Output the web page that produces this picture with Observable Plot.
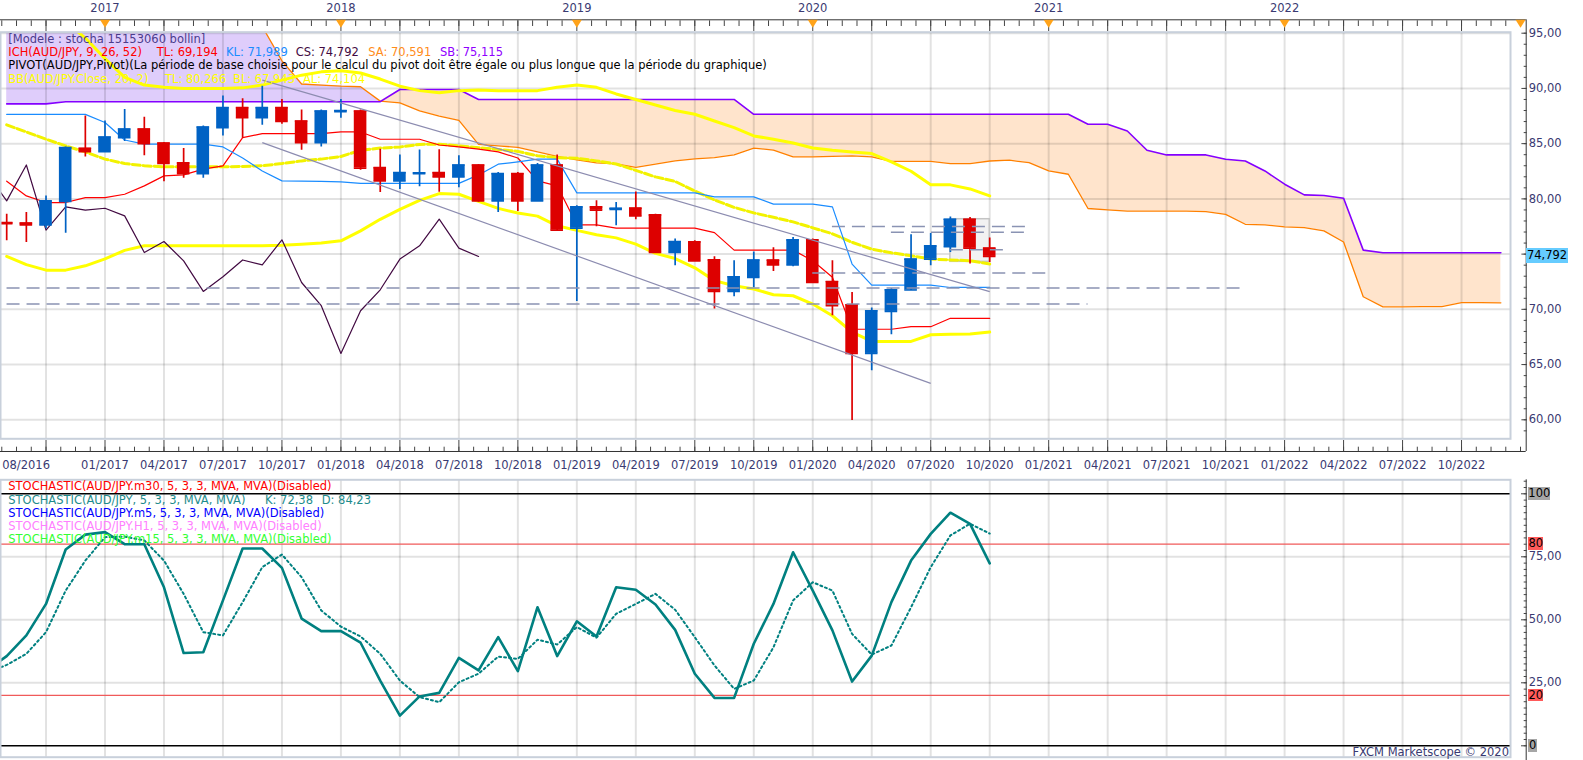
<!DOCTYPE html>
<html>
<head>
<meta charset="utf-8">
<script src="https://cdn.jsdelivr.net/npm/d3@7"></script>
<script src="https://cdn.jsdelivr.net/npm/@observablehq/plot@0.6"></script>
<style>
html, body { margin: 0; padding: 0; background: #fff; overflow: hidden; }
#wrap { position: relative; width: 1583px; height: 760px; overflow: hidden; font-family: "DejaVu Sans", sans-serif; }
#wrap svg { display: block; }
.t { position: absolute; font-size: 11.5px; line-height: 13px; white-space: pre; }
.tag { position: absolute; font-size: 11.5px; white-space: pre; color: #000; text-align: center; }
</style>
</head>
<body>
<div id="wrap"></div>
<script>
// ---------------- DATA (monthly AUD/JPY) ----------------
const firstMonth = "08/2016";
const open  = [77.85,77.82,77.65,79.76,84.58,84.28,85.54,86.33,85.06,83.26,
               82.29,86.45,88.26,87.35,88.26,87.05,85.09,87.90,87.96,82.83,
               81.63,82.28,82.38,81.99,83.07,79.82,82.29,79.82,83.07,77.35,
               79.28,79.05,79.16,78.55,75.14,76.11,74.48,71.62,72.88,74.46,
               74.03,76.29,72.52,70.42,66.01,69.81,71.75,74.55,75.66,78.16,
               75.54];
const high  = [78.62,78.76,80.27,84.70,87.50,87.05,88.10,87.40,85.10,84.55,
               86.60,89.31,89.07,90.20,89.00,88.05,88.05,89.00,88.05,84.50,
               83.98,84.43,84.45,83.90,83.10,82.38,82.38,83.20,83.98,79.37,
               79.82,79.67,80.63,78.60,76.36,76.20,74.76,74.39,75.20,75.57,
               76.50,76.36,74.39,71.53,70.12,71.89,76.75,76.86,78.37,78.31,
               76.45];
const low   = [76.20,76.05,77.30,76.90,83.80,84.25,85.20,83.90,81.56,81.87,
               81.87,85.70,85.50,86.66,86.75,84.40,84.70,87.30,82.60,80.57,
               80.85,81.10,80.60,81.00,79.70,78.76,78.85,79.80,77.10,70.71,
               77.47,77.56,78.10,75.10,73.94,74.39,70.03,71.14,71.95,73.43,
               73.85,72.40,69.42,59.93,64.45,67.70,71.70,73.94,75.14,74.10,
               74.24];
const close = [77.75,77.65,79.82,84.64,84.28,85.60,86.33,85.00,83.20,82.29,
               86.51,88.26,87.35,88.26,87.00,85.09,87.96,88.00,82.78,81.63,
               82.38,82.36,81.99,83.07,79.82,82.29,79.82,83.07,77.17,79.28,
               78.98,79.15,78.46,75.14,76.14,74.39,71.62,72.95,74.47,74.03,
               76.29,72.43,70.33,66.01,69.87,71.77,74.55,75.75,78.16,75.54,
               74.79];
const tenkan = [81.60,80.27,79.67,79.67,80.12,80.12,80.42,81.18,82.08,82.17,
                82.69,82.98,85.54,85.90,85.90,85.90,85.90,86.06,86.06,85.40,
                85.40,85.40,84.88,84.70,84.50,84.25,83.70,81.63,81.18,77.65,
                77.65,77.35,77.35,77.35,77.35,77.35,76.95,75.36,75.36,75.36,
                75.36,74.40,72.90,68.20,68.20,68.20,68.43,68.43,69.19,69.19,
                69.19];
const kijun  = [87.65,87.65,87.65,87.65,87.65,86.92,85.33,84.95,84.95,84.95,
                84.95,84.70,83.70,82.53,81.63,81.60,81.58,81.54,81.40,81.40,
                81.40,81.40,81.40,81.40,82.17,83.14,83.35,83.60,83.60,80.54,
                80.54,80.54,80.54,80.54,80.54,80.54,80.18,80.18,80.18,79.52,
                79.52,79.52,79.28,74.10,72.20,72.20,72.20,72.20,71.98,71.98,
                71.98];
const senkouA = [97.0,97.0,97.0,97.0,97.0,97.0,97.0,97.0,97.0,97.0,
                 97.0,97.0,96.3,95.6,92.5,90.4,90.3,90.2,90.15,88.85,
                 88.7,87.96,87.5,87.1,84.94,84.8,84.67,84.26,83.85,83.54,
                 83.26,83.17,82.86,83.15,83.44,83.62,83.74,83.98,84.6,84.41,
                 83.8,83.8,83.84,83.9,83.8,83.4,83.4,83.4,83.2,83.2,
                 83.43,83.5,83.28,82.53,82.23,79.13,79.0,78.9,78.9,78.9,
                 78.9,78.85,78.6,77.7,77.65,77.47,77.4,77.1,76.1,71.14,
                 70.23,70.23,70.25,70.25,70.6,70.6,70.59];
const senkouB = [88.6,88.6,88.6,88.8,88.8,88.8,88.8,88.8,88.8,88.8,
                 88.8,88.8,88.8,88.8,88.8,88.8,88.8,88.8,88.8,88.8,
                 89.9,89.9,89.9,89.9,89.0,89.0,89.0,89.0,89.0,89.0,
                 89.0,89.0,89.0,89.0,89.0,89.0,89.0,89.0,87.66,87.66,
                 87.66,87.66,87.66,87.66,87.66,87.66,87.66,87.66,87.66,87.66,
                 87.66,87.66,87.66,87.66,87.66,86.75,86.75,86.15,84.4,83.98,
                 83.98,83.98,83.59,83.43,82.53,81.33,80.36,80.3,80.06,75.36,
                 75.12,75.12,75.12,75.12,75.12,75.12,75.12];
const bbUpper  = [98.6,98.07,97.25,96.05,94.56,92.7,91.0,90.3,90.1,90.0,
                  90.0,90.0,90.05,90.3,90.75,91.2,91.5,91.6,91.4,90.85,
                  90.2,89.8,89.6,89.8,89.85,89.8,89.8,89.8,90.1,90.3,
                  90.1,89.5,89.0,88.5,88.0,87.66,87.05,86.45,85.7,85.4,
                  85.06,84.6,84.4,84.25,84.1,83.35,82.5,81.27,81.27,80.9,
                  80.27];
const bbMiddle = [86.7,86.06,85.4,84.8,84.25,83.6,83.2,83.0,82.9,82.9,
                  82.9,82.9,82.94,83.0,83.2,83.44,83.6,83.84,84.4,84.6,
                  84.7,84.93,84.95,84.8,84.64,84.48,84.3,83.9,83.73,83.68,
                  83.44,83.16,82.58,81.99,81.58,80.72,79.9,79.23,78.73,78.33,
                  77.92,77.38,76.84,76.07,75.45,75.12,74.85,74.55,74.47,74.4,
                  74.10];
const bbLower  = [74.8,74.05,73.55,73.55,73.94,74.57,75.34,75.75,75.75,75.75,
                  75.75,75.75,75.75,75.75,75.8,75.9,76.0,76.2,77.1,78.15,
                  79.05,79.86,80.48,80.42,79.77,79.14,78.72,78.44,77.56,77.15,
                  76.75,76.47,75.9,75.07,74.6,73.76,72.6,72.13,71.84,71.32,
                  71.23,70.48,69.42,67.93,67.1,67.1,67.1,67.7,67.75,67.77,
                  67.94];
const chikouShift = 26;

const stochStartMonth = "07/2016";
const stochK = [30.0,35.6,43.8,56.3,77.9,83.8,84.8,80.0,80.0,62.9,36.8,
                37.1,57.7,78.3,78.3,70.6,50.5,45.5,45.5,40.9,25.9,
                12.0,19.6,21.0,34.9,29.9,43.1,29.6,55.0,35.6,49.4,
                43.4,62.9,61.9,56.1,46.0,28.6,19.0,19.0,40.5,56.3,
                76.8,61.6,45.8,25.5,35.8,57.0,73.5,84.1,92.5,88.1,
                72.38];
const stochD = [29.0,32.1,36.5,45.1,61.6,73.5,82.8,83.0,81.5,73.5,60.3,
                45.1,43.8,57.0,70.9,75.9,66.9,53.7,47.3,43.4,36.5,
                25.9,19.3,17.3,25.2,28.6,35.4,34.5,42.1,40.2,47.1,
                42.9,52.4,56.3,60.3,54.0,43.1,31.9,22.6,25.9,39.1,
                57.7,64.9,61.6,44.4,36.2,39.8,55.0,70.9,83.5,88.1,
                84.23];
const stochLevels = [20, 80];
const stochBounds = [0, 100];

const pivotLevel = [71.93, 70.48, 73.28, 77.50, 76.97, 75.40];
const pivotFrom  = ["07/2016","07/2016","01/2020","02/2020","05/2020","08/2020"];
const pivotTo    = ["11/2021","03/2021","01/2021","12/2020","12/2020","11/2020"];

const trendFrom      = ["09/2017","09/2017"];
const trendFromPrice = [90.75, 85.09];
const trendTo        = ["10/2020","07/2020"];
const trendToPrice   = [71.60, 63.30];

const boxMonths = ["08/2020","10/2020"];
const boxPrices = [74.30, 78.16];

const yearLabels  = ["2017","2018","2019","2020","2021","2022"];
const yearMarkers = ["2017","2018","2019","2020","2021","2022","2023"];
const dateLabels = ["08/2016","01/2017","04/2017","07/2017","10/2017","01/2018","04/2018","07/2018",
  "10/2018","01/2019","04/2019","07/2019","10/2019","01/2020","04/2020","07/2020","10/2020",
  "01/2021","04/2021","07/2021","10/2021","01/2022","04/2022","07/2022","10/2022"];
const priceTicks = [60,65,70,75,80,85,90,95];
const priceLabelTicks = [60,65,70,80,85,90,95]; // 75,00 hidden behind the last-price tag
const stochTicks = [25,50,75];

// ---------------- helpers ----------------
const [m0, y0] = firstMonth.split("/").map(Number);
const mi = s => { const [m, y] = s.split("/").map(Number); return (y - y0) * 12 + (m - m0); };
const fmt2 = v => d3.format(".2f")(v).replace(".", ",");
const fmt3 = v => d3.format(".3f")(v).replace(".", ",");

const RED = "#dd0000", BLUE = "#0062c4";
const GRID = "rgba(0,0,0,0.115)";
const AXIS = "#3a3a72";
const FS = 11.5;
const xMin = -0.3154, xMax = 76.49;
const yMinTop = 58.28, yMaxTop = 95.09;

const candles = open.map((o, i) => ({i, open: o, high: high[i], low: low[i], close: close[i], col: close[i] >= o ? BLUE : RED}));
const cloud = senkouA.map((a, i) => ({i, sa: a, sb: senkouB[i], top: Math.max(a, senkouB[i])}));
const ind = tenkan.map((t, i) => ({i, tenkan: t, kijun: kijun[i], up: bbUpper[i], mid: bbMiddle[i], lo: bbLower[i]}));
const chikou = close.map((c, i) => ({i: i - chikouShift, v: c})).filter(d => d.i >= -1);
const s0 = mi(stochStartMonth);
const stoch = stochK.map((k, j) => ({i: s0 + j, k, d: stochD[j]}));
const pivots = pivotLevel.map((p, j) => ({level: p, from: mi(pivotFrom[j]), to: mi(pivotTo[j])}));
const trends = trendFrom.map((f, j) => ({x1: mi(f), y1: trendFromPrice[j], x2: mi(trendTo[j]), y2: trendToPrice[j]}));
const box = [{x1: mi(boxMonths[0]), x2: mi(boxMonths[1]), y1: boxPrices[0], y2: boxPrices[1]}];
const years = yearLabels.map(y => ({i: mi("01/" + y), label: y}));
const yearMarks = yearMarkers.map(y => ({i: mi("01/" + y)}));
const dates = dateLabels.map(s => ({i: mi(s), label: s}));
const quarterTicks = d3.range(mi("10/2016"), mi("12/2022") + 1, 3);
const minorTicks = d3.range(mi("10/2016") - 3, mi("01/2023") + 0.01, 0.75);
const hw = 0.32;

const downTri = { draw(ctx, size) { const r = Math.sqrt(size / Math.PI); ctx.moveTo(-r, 0); ctx.lineTo(r, 0); ctx.lineTo(0, 1.6 * r); ctx.closePath(); } };

const baseStyle = {fontFamily: "DejaVu Sans", fontSize: FS + "px", background: "transparent", overflow: "visible"};

// ---------------- TOP PANEL ----------------
const topPlot = Plot.plot({
  width: 1583, height: 478,
  marginLeft: 0, marginRight: 73, marginTop: 31.7, marginBottom: 39.7,
  x: {domain: [xMin, xMax], axis: null},
  y: {domain: [yMinTop, yMaxTop], axis: null},
  color: {type: "identity"},
  style: baseStyle,
  marks: [
    Plot.areaY(cloud, {x: "i", y1: "sb", y2: "top", fill: "#dfcdfb", clip: true}),
    Plot.areaY(cloud, {x: "i", y1: "sa", y2: "top", fill: "#ffe4cc", clip: true}),
    Plot.gridX({ticks: quarterTicks, stroke: GRID, strokeOpacity: 1, strokeWidth: 2}),
    Plot.gridY({ticks: priceTicks, stroke: GRID, strokeOpacity: 1, strokeWidth: 2}),
    Plot.line(cloud, {x: "i", y: "sa", stroke: "#ff8000", strokeWidth: 1.3, clip: true}),
    Plot.line(cloud, {x: "i", y: "sb", stroke: "#8400ff", strokeWidth: 1.6, clip: true}),
    Plot.rect(box, {x1: "x1", x2: "x2", y1: "y1", y2: "y2", fill: "#f2f2f2", stroke: "#c4c4c4", strokeWidth: 1.5}),
    Plot.line(ind, {x: "i", y: "up", stroke: "#ffff00", strokeWidth: 3, clip: true}),
    Plot.line(ind, {x: "i", y: "lo", stroke: "#ffff00", strokeWidth: 3, clip: true}),
    Plot.line(ind, {x: "i", y: "mid", stroke: "#f2f200", strokeWidth: 3, strokeDasharray: "8,3", clip: true}),
    Plot.line(ind, {x: "i", y: "tenkan", stroke: "#ff0000", strokeWidth: 1.2, clip: true}),
    Plot.line(ind, {x: "i", y: "kijun", stroke: "#1a8cff", strokeWidth: 1.2, clip: true}),
    Plot.line(chikou, {x: "i", y: "v", stroke: "#420a42", strokeWidth: 1.2, clip: true}),
    Plot.ruleX(candles, {x: "i", y1: "low", y2: "high", stroke: "col", strokeWidth: 1.7, clip: true}),
    Plot.rect(candles, {x1: d => d.i - hw, x2: d => d.i + hw, y1: "open", y2: "close", fill: "col", clip: true}),
    Plot.ruleY(candles, {y: "open", x1: d => d.i - hw, x2: d => d.i + hw, stroke: "col", strokeWidth: 1.6, clip: true}),
    Plot.ruleY(candles, {y: "close", x1: d => d.i - hw, x2: d => d.i + hw, stroke: "col", strokeWidth: 1.6, clip: true}),
    Plot.ruleY(pivots, {y: "level", x1: "from", x2: "to", stroke: "#8a93b3", strokeWidth: 1.5, strokeDasharray: "13,7", clip: true}),
    Plot.link(trends, {x1: "x1", y1: "y1", x2: "x2", y2: "y2", stroke: "#8c8cb0", strokeWidth: 1.2}),
    Plot.frame({stroke: "#c8d0db", strokeWidth: 2}),
    // top time strip
    Plot.ruleY([yMaxTop], {dy: -12.4, insetRight: -15.7, stroke: "#333", strokeWidth: 1}),
    Plot.axisX({anchor: "top", ticks: minorTicks, tickSize: 5.7, dy: -6.7, fill: "none", stroke: "#444", label: null}),
    Plot.axisX({anchor: "top", ticks: quarterTicks, tickSize: 10.7, dy: -1.7, fill: "none", stroke: "#444", label: null}),
    Plot.dot(yearMarks, {x: "i", frameAnchor: "top", dy: -12.4, symbol: downTri, r: 5, fill: "#ffa31a", stroke: null}),
    Plot.text(years, {x: "i", text: "label", frameAnchor: "top", lineAnchor: "middle", dy: -23.4, fill: AXIS, fontSize: FS}),
    // bottom time strip
    Plot.ruleY([yMinTop], {dy: 12.7, insetRight: -15.7, stroke: "#333", strokeWidth: 1}),
    Plot.axisX({anchor: "bottom", ticks: minorTicks, tickSize: 4.3, dy: 8.4, fill: "none", stroke: "#444", label: null}),
    Plot.axisX({anchor: "bottom", ticks: quarterTicks, tickSize: 11, dy: 1.7, fill: "none", stroke: "#444", label: null}),
    Plot.text(dates.slice(1), {x: "i", text: "label", frameAnchor: "bottom", lineAnchor: "middle", dy: 26.7, fill: AXIS, fontSize: FS}),
    Plot.text(dates.slice(0, 1), {x: "i", text: "label", frameAnchor: "bottom", lineAnchor: "middle", dy: 26.7, dx: -4.5, textAnchor: "start", fill: AXIS, fontSize: FS}),
    // right price axis
    Plot.ruleX([xMax], {dx: 15.7, insetTop: -12.4, insetBottom: -12.7, stroke: "#333", strokeWidth: 1}),
    Plot.axisY({anchor: "right", ticks: d3.range(59, 96), tickSize: 3, dx: 12.7, fill: "none", stroke: "#444", label: null}),
    Plot.axisY({anchor: "right", ticks: priceTicks, tickSize: 5.3, dx: 10.4, fill: "none", stroke: "#444", label: null}),
    Plot.axisY({anchor: "right", ticks: priceLabelTicks, tickSize: 0, tickPadding: 2.5, dx: 15.7, stroke: "none", tickFormat: fmt2, fill: AXIS, fontSize: FS, label: null})
  ]
});

// ---------------- STOCHASTIC PANEL ----------------
const botPlot = Plot.plot({
  width: 1583, height: 282,
  marginLeft: 0, marginRight: 73, marginTop: 1.3, marginBottom: 3.3,
  x: {domain: [xMin, xMax], axis: null},
  y: {domain: [-4.52, 105.56], axis: null},
  style: baseStyle,
  marks: [
    Plot.gridX({ticks: quarterTicks, stroke: GRID, strokeOpacity: 1, strokeWidth: 2}),
    Plot.gridY({ticks: stochTicks, stroke: GRID, strokeOpacity: 1, strokeWidth: 2}),
    Plot.ruleY(stochBounds, {stroke: "#000", strokeWidth: 1.5}),
    Plot.ruleY(stochLevels, {stroke: "#f05a5a", strokeWidth: 1.2}),
    Plot.line(stoch, {x: "i", y: "d", stroke: "#008080", strokeWidth: 2, strokeDasharray: "2,3", clip: true}),
    Plot.line(stoch, {x: "i", y: "k", stroke: "#008080", strokeWidth: 2.6, clip: true}),
    Plot.frame({stroke: "#c8d0db", strokeWidth: 2}),
    Plot.ruleX([xMax], {dx: 15.7, insetBottom: -3.3, stroke: "#333", strokeWidth: 1}),
    Plot.axisY({anchor: "right", ticks: d3.range(0, 105.1, 2.5), tickSize: 3, dx: 12.7, fill: "none", stroke: "#444", label: null}),
    Plot.axisY({anchor: "right", ticks: [0, 25, 50, 75, 100], tickSize: 5.7, dx: 10, fill: "none", stroke: "#444", label: null}),
    Plot.axisY({anchor: "right", ticks: stochTicks, tickSize: 0, tickPadding: 2.5, dx: 15.7, stroke: "none", tickFormat: fmt2, fill: AXIS, fontSize: FS, label: null})
  ]
});

const wrap = document.getElementById("wrap");
wrap.appendChild(topPlot);
wrap.appendChild(botPlot);
const BOT = 478;

function addText(parts, left, cy) {
  for (const [txt, color, x] of parts) {
    const d = document.createElement("div");
    d.className = "t";
    d.style.left = (x !== undefined ? x : left) + "px";
    d.style.top = (cy - 6.5) + "px";
    d.style.color = color;
    d.textContent = txt;
    wrap.appendChild(d);
  }
}
function addTag(txt, left, cy, bg, w, h) {
  const d = document.createElement("div");
  d.className = "tag";
  d.style.left = left + "px";
  d.style.top = (cy - h / 2) + "px";
  d.style.width = w + "px";
  d.style.height = h + "px";
  d.style.lineHeight = h + "px";
  d.style.background = bg;
  d.textContent = txt;
  wrap.appendChild(d);
}

// top legend
addText([["[Modele : stocha 15153060 bollin]", "#4b3c8c"]], 8.3, 39.5);
addText([
  ["ICH(AUD/JPY, 9, 26, 52)", "#ff0000", 8.3],
  ["TL: 69,194", "#ff0000", 156.7],
  ["KL: 71,989", "#1a8cff", 226],
  ["CS: " + fmt3(close[close.length - 1] + 0.002), "#420a42", 295.7],
  ["SA: 70,591", "#ff8c1a", 368.3],
  ["SB: 75,115", "#9000ff", 440]
], 8.3, 52.3);
addText([["PIVOT(AUD/JPY,Pivot)(La période de base choisie pour le calcul du pivot doit être égale ou plus longue que la période du graphique)", "#000000"]], 8.3, 65.3);
addText([
  ["BB(AUD/JPY.Close, 20, 2)", "#ffff00", 8.3],
  ["TL: 80,266", "#ffff00", 165],
  ["BL: 67,943", "#ffff00", 233],
  ["AL: 74,104", "#ffff00", 303]
], 8.3, 79);

// bottom legend
addText([["STOCHASTIC(AUD/JPY.m30, 5, 3, 3, MVA, MVA)(Disabled)", "#ff0000"]], 8.3, 486.7);
addText([
  ["STOCHASTIC(AUD/JPY, 5, 3, 3, MVA, MVA)", "#1e8c8c", 8.3],
  ["K: " + fmt2(stochK[stochK.length - 1]), "#1e8c8c", 265],
  ["D: " + fmt2(stochD[stochD.length - 1]), "#1e8c8c", 321.7]
], 8.3, 500);
addText([["STOCHASTIC(AUD/JPY.m5, 5, 3, 3, MVA, MVA)(Disabled)", "#0000ff"]], 8.3, 513.3);
addText([["STOCHASTIC(AUD/JPY.H1, 5, 3, 3, MVA, MVA)(Disabled)", "#ff80ff"]], 8.3, 526.7);
addText([["STOCHASTIC(AUD/JPY.m15, 5, 3, 3, MVA, MVA)(Disabled)", "#33ff33"]], 8.3, 539.3);

// right-axis tags
const ty = topPlot.scale("y"), by = botPlot.scale("y");
addTag(fmt3(close[close.length - 1] + 0.002), 1526, ty.apply(close[close.length - 1]), "#66ccff", 42, 15);
addTag("100", 1528.3, BOT + by.apply(stochBounds[1]), "#a6a6a6", 22, 12.5);
addTag("80", 1528.3, BOT + by.apply(stochLevels[1]), "#ff5a5a", 15, 12.5);
addTag("20", 1528.3, BOT + by.apply(stochLevels[0]), "#ff5a5a", 15, 12.5);
addTag("0", 1528.3, BOT + by.apply(stochBounds[0]), "#a6a6a6", 8.5, 12.5);

// footer
const f = document.createElement("div");
f.className = "t";
f.style.right = (1583 - 1509) + "px";
f.style.top = (752 - 6.5) + "px";
f.style.color = AXIS;
f.textContent = "FXCM Marketscope © 2020";
wrap.appendChild(f);
</script>
</body>
</html>
